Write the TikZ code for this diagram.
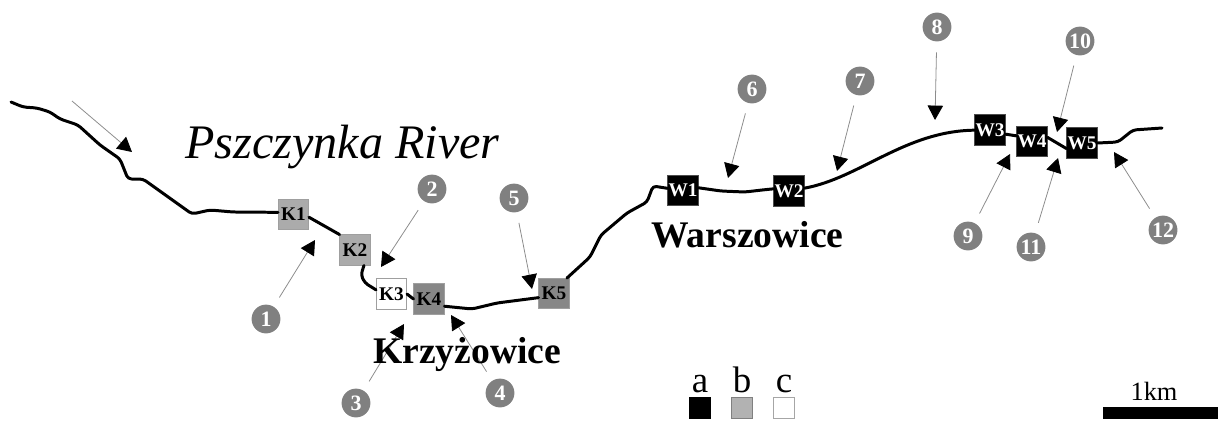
\documentclass[tikz,border=0pt]{standalone}
\usepackage{fontspec}
\setmainfont{Liberation Serif}
\usetikzlibrary{arrows.meta}

\tikzset{
	site/.style={draw=gray!75, line width=0.6pt, minimum size=17.6pt, inner sep=0pt, outer sep=0pt, font=\fontsize{11}{12}\selectfont\bfseries},
	sitea/.style={site, fill=black, draw=black!70, text=white},
	siteb/.style={site, fill=black!33},
	sited/.style={site, fill=black!47},
	sitec/.style={site, fill=white},
	mark point/.style={draw=none, fill=black!50, circle, minimum size=16.4pt, inner sep=0pt, outer sep=6.2pt, text=white, font=\fontsize{12.5}{13}\selectfont\bfseries},
	pointer/.style={draw=black!45, line width=0.45pt, -{Triangle[length=8.2pt,width=8.8pt,black]}},
	river/.style={line width=1.7pt, black, line join=round, line cap=round, rounded corners=2pt},
	key/.style={minimum size=12pt, inner sep=0pt, outer sep=0pt, line width=0.6pt}
}

\begin{document}
\begin{tikzpicture}[x=0.02cm, y=-0.02cm]
	\useasboundingbox (0, 0) rectangle (1219, 420);

	\path (293.5, 214.5) node[siteb] (k1){K1}
		(355, 250) node[siteb] (k2){K2}
		(391.5, 294) node[sitec] (k3){K3}
		(429, 299) node[sited] (k4){K4}
		(554, 293.5) node[sited] (k5){K5}
		(683, 190.5) node[sitea] (w1){W1}
		(789, 191) node[sitea] (w2){W2}
		(990, 130) node[sitea] (w3){W3}
		(1032, 141.5) node[sitea] (w4){W4}
		(1082, 143) node[sitea] (w5){W5};

	\path (266, 319) node[mark point] (n1){1}
		(432, 189) node[mark point] (n2){2}
		(356, 403) node[mark point] (n3){3}
		(500, 393) node[mark point] (n4){4}
		(514, 198) node[mark point] (n5){5}
		(752, 89) node[mark point] (n6){6}
		(860, 81) node[mark point] (n7){7}
		(937, 27) node[mark point] (n8){8}
		(968, 236) node[mark point] (n9){9}
		(1080, 41) node[mark point] (n10){10}
		(1031, 247) node[mark point] (n11){11}
		(1163, 230) node[mark point] (n12){12};

	% river, upstream to downstream
	\path (11, 102) coordinate (source) (1162, 128) coordinate (mouth);
	\draw[river] (source) -- (23, 107) -- (37, 108) -- (50, 112) -- (60, 119) -- (78, 125) -- (100, 145) -- (120, 159) -- (128, 179) -- (143, 179) -- (192, 214) -- (210, 210) -- (233, 212) -- (k1.172);
	\draw[river] (k1.-10) -- (k2.135);
	\draw[river] (k2.-60) -- (361, 275) -- (365, 283) -- (k3.165);
	\draw[river] (k3.east) -- (k4.west);
	\draw[river] (k4.-25) -- (472, 309) -- (497, 303) -- (k5.-165);
	\draw[river] (k5.50) -- (590, 257) -- (601, 235) -- (627, 213) -- (647, 202) -- (653, 186) -- (w1.172);
	\draw[river] (w1.10) -- (721, 191) -- (745, 192) -- (762, 190) -- (w2.172);
	\draw[river] (w2) .. controls (860, 178) and (905, 131) .. (w3);
	\draw[river] (w3.-15) -- (w4.160);
	\draw[river] (w4.15) -- (w5.-160);
	\draw[river] (w5.east) -- (1118, 142) -- (1133, 130) -- (mouth);

	\path (132, 152) coordinate (p0) (72, 101) coordinate (tail0)
		(315, 240) coordinate (p1)
		(381, 267) coordinate (p2)
		(404, 324) coordinate (p3)
		(451, 315) coordinate (p4)
		(532, 289) coordinate (p5)
		(728, 178) coordinate (p6)
		(837, 171) coordinate (p7)
		(935, 120) coordinate (p8)
		(1010, 154) coordinate (p9)
		(1057, 132) coordinate (p10)
		(1058, 158) coordinate (p11)
		(1114, 152) coordinate (p12);

	\draw[pointer] (tail0) -- (p0);
	\draw[pointer] (n1) -- (p1);
	\draw[pointer] (n2) -- (p2);
	\draw[pointer] (n3) -- (p3);
	\draw[pointer] (n4) -- (p4);
	\draw[pointer] (n5) -- (p5);
	\draw[pointer] (n6) -- (p6);
	\draw[pointer] (n7) -- (p7);
	\draw[pointer] (n8) -- (p8);
	\draw[pointer] (n9) -- (p9);
	\draw[pointer] (n10) -- (p10);
	\draw[pointer] (n11) -- (p11);
	\draw[pointer] (n12) -- (p12);

	\path (185, 158) node[anchor=base west, inner sep=0pt, font=\fontsize{27.4}{30}\selectfont\itshape] (title){Pszczynka River}
		(373, 363) node[anchor=base west, inner sep=0pt, font=\fontsize{21.4}{24}\selectfont\bfseries] (krzyzowice){Krzyżowice}
		(651, 247) node[anchor=base west, inner sep=0pt, font=\fontsize{21.4}{24}\selectfont\bfseries] (warszowice){Warszowice};

	% legend
	\path (700, 408) node[key, draw=black, fill=black] (keya){}
		(742, 408) node[key, draw=black!50, fill=black!30] (keyb){}
		(784, 408) node[key, draw=black!35, fill=white] (keyc){}
		(700, 392) node[anchor=base, inner sep=0pt, font=\fontsize{21}{24}\selectfont] (labela){a}
		(742, 392) node[anchor=base, inner sep=0pt, font=\fontsize{21}{24}\selectfont] (labelb){b}
		(784, 392) node[anchor=base, inner sep=0pt, font=\fontsize{21}{24}\selectfont] (labelc){c};

	% scale bar
	\path (1160.5, 413) node[fill=black, minimum width=65.2pt, minimum height=6.8pt, inner sep=0pt] (bar){}
		(1154, 400) node[anchor=base, inner sep=0pt, font=\fontsize{15}{18}\selectfont] (barlabel){1km};
\end{tikzpicture}
\end{document}
